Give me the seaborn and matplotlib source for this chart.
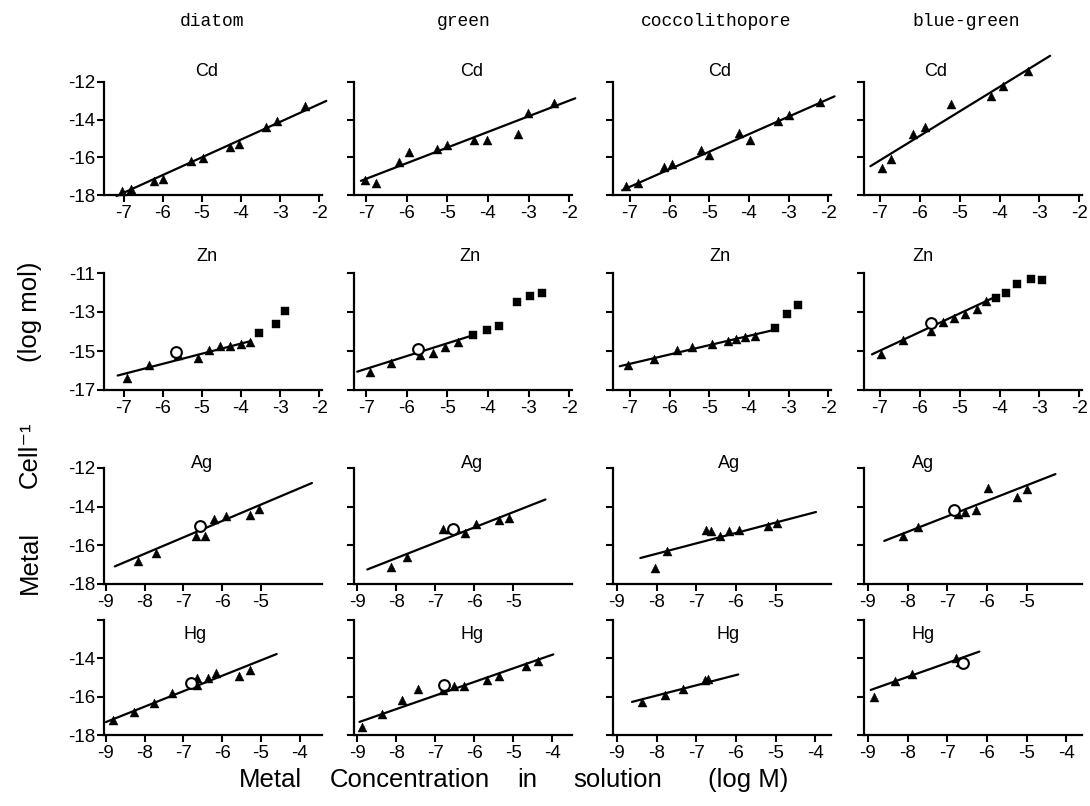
import matplotlib
matplotlib.use("Agg")
import matplotlib.pyplot as plt
import seaborn as sns
import numpy as np
import pandas as pd
from matplotlib import font_manager

# ---------------- data ----------------
GROUPS = ["diatom", "green", "coccolithopore", "blue-green"]
METALS = ["Cd", "Zn", "Ag", "Hg"]

X_TICKS = [[-7, -6, -5, -4, -3, -2], [-7, -6, -5, -4, -3, -2],
           [-9, -8, -7, -6, -5], [-9, -8, -7, -6, -5, -4]]
Y_TICKS = [[-18, -16, -14, -12], [-17, -15, -13, -11],
           [-18, -16, -14, -12], [-18, -16, -14, -12]]
Y_TICK_LABELS = [["-18", "-16", "-14", "-12"], ["-17", "-15", "-13", "-11"],
                 ["-18", "-16", "-14", "-12"], ["-18", "-16", "-14", ""]]

# fits: slope, intercept, x_start, x_end
# --- Cd ---
CD_DIATOM_TRI_X = [-7.04, -6.8, -6.23, -6.0, -5.27, -4.98, -4.28, -4.04, -3.35, -3.08, -2.37]
CD_DIATOM_TRI_Y = [-17.8, -17.7, -17.25, -17.15, -16.2, -16.03, -15.46, -15.3, -14.4, -14.05, -13.27]
CD_DIATOM_FIT = [0.942, -11.29, -7.18, -1.82]

CD_GREEN_TRI_X = [-7.03, -6.76, -6.2, -5.95, -5.25, -5.0, -4.34, -4.03, -3.26, -3.02, -2.37]
CD_GREEN_TRI_Y = [-17.23, -17.37, -16.25, -15.73, -15.54, -15.37, -15.09, -15.09, -14.75, -13.63, -13.14]
CD_GREEN_FIT = [0.83, -11.33, -7.13, -1.85]

CD_COCCO_TRI_X = [-7.09, -6.81, -6.14, -5.94, -5.22, -5.0, -4.24, -3.97, -3.26, -2.98, -2.22]
CD_COCCO_TRI_Y = [-17.53, -17.35, -16.49, -16.36, -15.63, -15.86, -14.71, -15.07, -14.05, -13.75, -13.08]
CD_COCCO_FIT = [0.93, -11.05, -7.2, -1.84]

CD_BG_TRI_X = [-6.95, -6.72, -6.16, -5.88, -5.21, -4.21, -3.91, -3.29]
CD_BG_TRI_Y = [-16.54, -16.07, -14.75, -14.4, -13.18, -12.74, -12.21, -11.39]
CD_BG_FIT = [1.30, -7.06, -7.24, -2.73]

# --- Zn ---
ZN_DIATOM_TRI_X = [-6.91, -6.35, -5.6, -5.09, -4.81, -4.54, -4.27, -4.0, -3.77]
ZN_DIATOM_TRI_Y = [-16.37, -15.71, -15.2, -15.34, -14.94, -14.74, -14.72, -14.65, -14.55]
ZN_DIATOM_SQ_X = [-3.55, -3.1, -2.88]
ZN_DIATOM_SQ_Y = [-14.08, -13.6, -12.93]
ZN_DIATOM_CIRC_X = [-5.65]
ZN_DIATOM_CIRC_Y = [-15.06]
ZN_DIATOM_FIT = [0.52, -12.54, -7.15, -3.74]

ZN_GREEN_TRI_X = [-6.91, -6.38, -5.67, -5.36, -5.05, -4.74]
ZN_GREEN_TRI_Y = [-16.09, -15.63, -15.2, -15.11, -14.82, -14.55]
ZN_GREEN_SQ_X = [-4.38, -4.03, -3.72, -3.28, -2.97, -2.68]
ZN_GREEN_SQ_Y = [-14.17, -13.91, -13.74, -12.51, -12.2, -12.03]
ZN_GREEN_CIRC_X = [-5.72]
ZN_GREEN_CIRC_Y = [-14.91]
ZN_GREEN_FIT = [0.655, -11.33, -7.22, -4.38]

ZN_COCCO_TRI_X = [-7.06, -6.39, -5.82, -5.44, -4.92, -4.54, -4.33, -4.09, -3.84]
ZN_COCCO_TRI_Y = [-15.7, -15.43, -14.97, -14.79, -14.65, -14.51, -14.39, -14.3, -14.22]
ZN_COCCO_SQ_X = [-3.35, -3.05, -2.76]
ZN_COCCO_SQ_Y = [-13.84, -13.09, -12.65]
ZN_COCCO_FIT = [0.478, -12.31, -7.26, -3.37]

ZN_BG_TRI_X = [-6.97, -6.42, -5.71, -5.42, -5.13, -4.86, -4.57, -4.35]
ZN_BG_TRI_Y = [-15.17, -14.44, -13.95, -13.52, -13.31, -13.12, -12.87, -12.42]
ZN_BG_SQ_X = [-4.1, -3.83, -3.56, -3.22, -2.94]
ZN_BG_SQ_Y = [-12.3, -12.04, -11.56, -11.31, -11.38]
ZN_BG_CIRC_X = [-5.71]
ZN_BG_CIRC_Y = [-13.55]
ZN_BG_FIT = [0.953, -8.31, -7.2, -4.19]

# --- Ag ---
AG_DIATOM_TRI_X = [-8.16, -7.71, -6.68, -6.45, -6.2, -5.91, -5.29, -5.05]
AG_DIATOM_TRI_Y = [-16.79, -16.4, -15.5, -15.5, -14.64, -14.5, -14.41, -14.12]
AG_DIATOM_CIRC_X = [-6.56]
AG_DIATOM_CIRC_Y = [-14.98]
AG_DIATOM_FIT = [0.847, -9.66, -8.77, -3.68]

AG_GREEN_TRI_X = [-8.14, -7.73, -6.81, -6.63, -6.46, -6.24, -5.96, -5.36, -5.1]
AG_GREEN_TRI_Y = [-17.1, -16.59, -15.16, -15.16, -15.11, -15.34, -14.88, -14.7, -14.57]
AG_GREEN_CIRC_X = [-6.55]
AG_GREEN_CIRC_Y = [-15.15]
AG_GREEN_FIT = [0.794, -10.31, -8.74, -4.18]

AG_COCCO_TRI_X = [-8.05, -7.75, -6.75, -6.62, -6.41, -6.18, -5.91, -5.2, -4.95]
AG_COCCO_TRI_Y = [-17.17, -16.28, -15.19, -15.28, -15.53, -15.24, -15.19, -15.02, -14.84]
AG_COCCO_FIT = [0.537, -12.14, -8.41, -3.98]

AG_BG_TRI_X = [-8.11, -7.73, -6.73, -6.55, -6.27, -5.98, -5.25, -4.98]
AG_BG_TRI_Y = [-15.51, -15.07, -14.37, -14.28, -14.16, -13.05, -13.49, -13.09]
AG_BG_CIRC_X = [-6.82]
AG_BG_CIRC_Y = [-14.19]
AG_BG_FIT = [0.8, -8.9, -8.59, -4.27]

# --- Hg ---
HG_DIATOM_TRI_X = [-8.82, -8.27, -7.77, -7.29, -6.65, -6.64, -6.36, -6.16, -5.56, -5.29]
HG_DIATOM_TRI_Y = [-17.23, -16.79, -16.35, -15.82, -15.04, -15.39, -15.04, -14.77, -14.9, -14.6]
HG_DIATOM_CIRC_X = [-6.8]
HG_DIATOM_CIRC_Y = [-15.3]
HG_DIATOM_FIT = [0.805, -10.08, -9.0, -4.59]

HG_GREEN_TRI_X = [-8.88, -8.37, -7.85, -7.43, -6.79, -6.52, -6.27, -5.68, -5.36, -4.68, -4.36]
HG_GREEN_TRI_Y = [-17.58, -16.88, -16.18, -15.6, -15.65, -15.44, -15.44, -15.12, -14.91, -14.42, -14.12]
HG_GREEN_CIRC_X = [-6.77]
HG_GREEN_CIRC_Y = [-15.39]
HG_GREEN_FIT = [0.71, -10.97, -8.94, -3.98]

HG_COCCO_TRI_X = [-8.38, -7.79, -7.34, -6.77, -6.7]
HG_COCCO_TRI_Y = [-16.27, -15.91, -15.59, -15.11, -15.07]
HG_COCCO_FIT = [0.534, -11.67, -8.62, -5.94]

HG_BG_TRI_X = [-8.84, -8.33, -7.88, -6.77, -6.68]
HG_BG_TRI_Y = [-16.04, -15.2, -14.8, -14.0, -14.2]
HG_BG_CIRC_X = [-6.59]
HG_BG_CIRC_Y = [-14.25]
HG_BG_FIT = [0.73, -9.13, -8.93, -6.19]

EMPTY = []

PANELS = [
    [(CD_DIATOM_TRI_X, CD_DIATOM_TRI_Y, EMPTY, EMPTY, EMPTY, EMPTY, CD_DIATOM_FIT),
     (CD_GREEN_TRI_X, CD_GREEN_TRI_Y, EMPTY, EMPTY, EMPTY, EMPTY, CD_GREEN_FIT),
     (CD_COCCO_TRI_X, CD_COCCO_TRI_Y, EMPTY, EMPTY, EMPTY, EMPTY, CD_COCCO_FIT),
     (CD_BG_TRI_X, CD_BG_TRI_Y, EMPTY, EMPTY, EMPTY, EMPTY, CD_BG_FIT)],
    [(ZN_DIATOM_TRI_X, ZN_DIATOM_TRI_Y, ZN_DIATOM_SQ_X, ZN_DIATOM_SQ_Y, ZN_DIATOM_CIRC_X, ZN_DIATOM_CIRC_Y, ZN_DIATOM_FIT),
     (ZN_GREEN_TRI_X, ZN_GREEN_TRI_Y, ZN_GREEN_SQ_X, ZN_GREEN_SQ_Y, ZN_GREEN_CIRC_X, ZN_GREEN_CIRC_Y, ZN_GREEN_FIT),
     (ZN_COCCO_TRI_X, ZN_COCCO_TRI_Y, ZN_COCCO_SQ_X, ZN_COCCO_SQ_Y, EMPTY, EMPTY, ZN_COCCO_FIT),
     (ZN_BG_TRI_X, ZN_BG_TRI_Y, ZN_BG_SQ_X, ZN_BG_SQ_Y, ZN_BG_CIRC_X, ZN_BG_CIRC_Y, ZN_BG_FIT)],
    [(AG_DIATOM_TRI_X, AG_DIATOM_TRI_Y, EMPTY, EMPTY, AG_DIATOM_CIRC_X, AG_DIATOM_CIRC_Y, AG_DIATOM_FIT),
     (AG_GREEN_TRI_X, AG_GREEN_TRI_Y, EMPTY, EMPTY, AG_GREEN_CIRC_X, AG_GREEN_CIRC_Y, AG_GREEN_FIT),
     (AG_COCCO_TRI_X, AG_COCCO_TRI_Y, EMPTY, EMPTY, EMPTY, EMPTY, AG_COCCO_FIT),
     (AG_BG_TRI_X, AG_BG_TRI_Y, EMPTY, EMPTY, AG_BG_CIRC_X, AG_BG_CIRC_Y, AG_BG_FIT)],
    [(HG_DIATOM_TRI_X, HG_DIATOM_TRI_Y, EMPTY, EMPTY, HG_DIATOM_CIRC_X, HG_DIATOM_CIRC_Y, HG_DIATOM_FIT),
     (HG_GREEN_TRI_X, HG_GREEN_TRI_Y, EMPTY, EMPTY, HG_GREEN_CIRC_X, HG_GREEN_CIRC_Y, HG_GREEN_FIT),
     (HG_COCCO_TRI_X, HG_COCCO_TRI_Y, EMPTY, EMPTY, EMPTY, EMPTY, HG_COCCO_FIT),
     (HG_BG_TRI_X, HG_BG_TRI_Y, EMPTY, EMPTY, HG_BG_CIRC_X, HG_BG_CIRC_Y, HG_BG_FIT)],
]

# ---------------- layout (pixels of a 1090x806 canvas) ----------------
W, H = 1090, 806
COL_LEFT = [104, 354, 613, 864]
COL_WIDTH = 218
ROW_TOP_BOTTOM = [(82, 195), (273, 390), (468, 584), (620, 735)]
XLIM_TOP_ROWS = [(-7.5, -1.93), (-7.3, -1.93), (-7.43, -1.93), (-7.4, -1.93)]
XLIM_BOTTOM_ROWS = [(-9.05, -3.42), (-9.08, -3.5), (-9.1, -3.6), (-9.1, -3.6)]
TITLE_X = [[0.47, 0.54, 0.49, 0.33],
           [0.47, 0.53, 0.49, 0.27],
           [0.45, 0.54, 0.53, 0.27],
           [0.42, 0.54, 0.53, 0.27]]
TITLE_Y = [1.09, 1.14, 1.04, 0.87]
HEADER_X = [212, 464, 716, 966]

# ---------------- style ----------------
sns.set_theme(style="ticks")
avail = {f.name for f in font_manager.fontManager.ttflist}
SANS = "Liberation Sans" if "Liberation Sans" in avail else "DejaVu Sans"
MONO = "Liberation Mono" if "Liberation Mono" in avail else "DejaVu Sans Mono"
plt.rcParams["font.family"] = [SANS, "DejaVu Sans"]
plt.rcParams["axes.unicode_minus"] = False

fig = plt.figure(figsize=(W / 100, H / 100), dpi=100)
fig.patch.set_facecolor("white")

for r in range(4):
    top, bot = ROW_TOP_BOTTOM[r]
    for c in range(4):
        ax = fig.add_axes([COL_LEFT[c] / W, 1 - bot / H, COL_WIDTH / W, (bot - top) / H])
        ax.set_facecolor("white")
        tx, ty, sx, sy, cx, cy, fit = PANELS[r][c]
        slope, icpt, x0, x1 = fit
        lx = np.array([x0, x1])
        sns.lineplot(x=lx, y=icpt + slope * lx, ax=ax, color="black",
                     linewidth=1.6, clip_on=False, zorder=2)
        if len(tx):
            sns.scatterplot(x=tx, y=ty, ax=ax, marker="^", s=42, color="black",
                            edgecolor="black", linewidth=0.3, clip_on=False, zorder=3)
        if len(sx):
            sns.scatterplot(x=sx, y=sy, ax=ax, marker="s", s=30, color="black",
                            edgecolor="black", linewidth=0.3, clip_on=False, zorder=3)
        if len(cx):
            sns.scatterplot(x=cx, y=cy, ax=ax, marker="o", s=60, facecolor="white",
                            edgecolor="black", linewidth=1.5, clip_on=False, zorder=4)
        ax.set_xlim(*(XLIM_TOP_ROWS[c] if r < 2 else XLIM_BOTTOM_ROWS[c]))
        ax.set_ylim(Y_TICKS[r][0], Y_TICKS[r][-1])
        ax.set_xticks(X_TICKS[r])
        ax.set_xticklabels([str(v) for v in X_TICKS[r]])
        ax.set_yticks(Y_TICKS[r])
        if c == 0:
            ax.set_yticklabels(Y_TICK_LABELS[r])
        else:
            ax.set_yticklabels([""] * len(Y_TICKS[r]))
        ax.set_xlabel("")
        ax.set_ylabel("")
        for side in ("top", "right"):
            ax.spines[side].set_visible(False)
        for side in ("left", "bottom"):
            ax.spines[side].set_linewidth(1.6)
            ax.spines[side].set_color("black")
        ax.tick_params(axis="both", which="major", direction="out", length=5,
                       width=1.5, color="black", labelsize=13.5, labelcolor="black")
        ax.tick_params(axis="x", pad=2)
        ax.tick_params(axis="y", pad=1.5)
        ax.text(TITLE_X[r][c], TITLE_Y[r], METALS[r], transform=ax.transAxes,
                ha="center", va="center", fontsize=13, color="black")

for c, name in enumerate(GROUPS):
    fig.text(HEADER_X[c] / W, 1 - 22 / H, name, ha="center", va="center",
             fontsize=13, family=MONO, color="black")

# y-axis label (three words, wide spacing like the original)
for word, yc in [("Metal", 562), ("Cell\u207b\u00b9", 455), ("(log mol)", 312)]:
    fig.text(30 / W, 1 - yc / H, word, rotation=90, ha="center", va="center",
             fontsize=18.5, color="black", family=[SANS, "DejaVu Sans"])

for word, xc in [("Metal", 270), ("Concentration", 410), ("in", 527),
                 ("solution", 618), ("(log M)", 748)]:
    fig.text(xc / W, 1 - 780 / H, word, ha="center", va="center",
             fontsize=18.5, color="black")

fig.savefig("out.png", dpi=100, facecolor="white")
